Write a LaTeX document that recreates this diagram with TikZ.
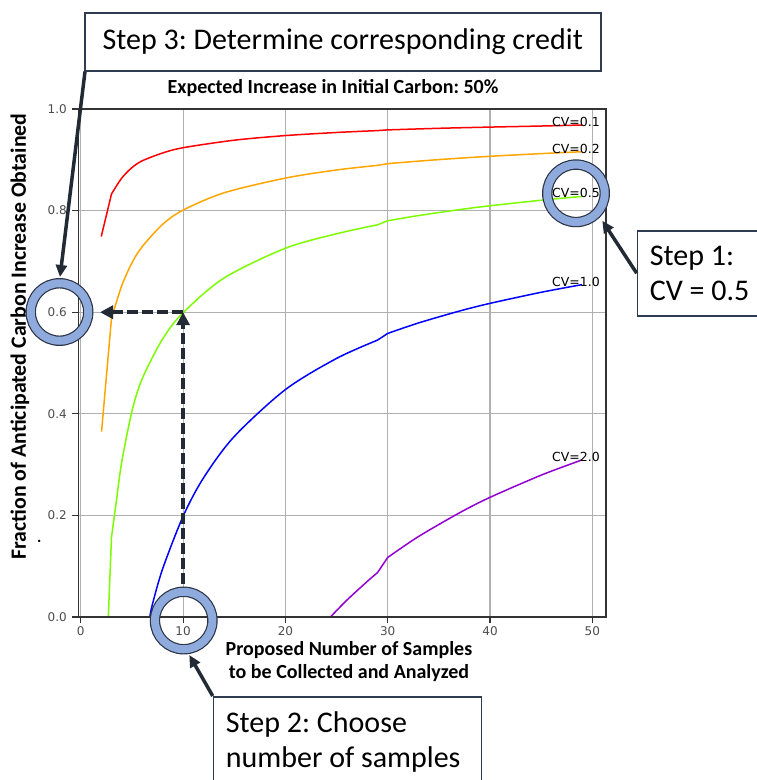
\documentclass[tikz,border=0pt]{standalone}
\usepackage{fontspec}
\setmainfont{Carlito}
\newfontfamily\djv{DejaVu Sans}
\usetikzlibrary{arrows.meta}
\frenchspacing
\newcommand{\normsp}{\spaceskip=0pt\xspaceskip=0pt\relax}
\definecolor{navy}{HTML}{222A35}
\definecolor{ringblue}{HTML}{8FAADC}
\definecolor{ringedge}{HTML}{2B3445}
\definecolor{boxedge}{HTML}{2F3B4F}
\definecolor{gridc}{HTML}{B0B0B0}
\definecolor{spinec}{HTML}{333333}
\definecolor{tickc}{HTML}{4D4D4D}
\definecolor{cvred}{HTML}{FF0000}
\definecolor{cvorange}{HTML}{FFA500}
\definecolor{cvgreen}{HTML}{7CFC00}
\definecolor{cvblue}{HTML}{0000FF}
\definecolor{cvpurple}{HTML}{9400D3}
\tikzset{
  gridline/.style={draw=gridc, line width=1.2pt},
  spine/.style={draw=spinec, line width=1.2pt},
  cvline/.style={line width=1.5pt, line join=round},
  ticklab/.style={font=\djv\fontsize{12}{14}\selectfont, text=tickc, inner sep=0pt},
  cvlab/.style={font=\djv\fontsize{12.5}{14}\selectfont, text=black, inner sep=0pt, anchor=base},
  axlab/.style={font=\bfseries\fontsize{20}{23.5}\selectfont, inner sep=0pt, align=center},
  stepbox/.style={draw=boxedge, line width=1.5pt, fill=white, font=\fontsize{30}{35}\selectfont, align=left},
  ring/.style={circle, draw=ringedge, double=ringblue, double distance=8pt, line width=1.2pt, minimum size=57.5pt, inner sep=0pt},
  callout/.style={draw=navy, line width=3.5pt, -{Triangle[length=12pt,width=11pt]}},
  guide/.style={draw=navy, line width=4.5pt, dash pattern=on 11pt off 4pt, -{Triangle[length=13pt,width=13pt]}}
}
\begin{document}
\begin{tikzpicture}[x=1pt,y=-1pt]
\useasboundingbox (0,0) rectangle (756,780);
\begin{scope}[shift={(80.8pt,-617pt)}, x=10.23pt, y=508pt]
  % grid
  \foreach \n in {0,10,...,50} \draw[gridline] (\n,0) -- (\n,1);
  \foreach \f in {0.2,0.4,0.6,0.8} \draw[gridline] (-0.225,\f) -- (51.34,\f);
  % curves
  \draw[cvline, cvred] (2,0.749) -- plot[smooth] coordinates {(3,0.8326) (4,0.864) (5,0.8846) (6,0.898) (8,0.9134) (10,0.9238) (15,0.9386) (20,0.9477) (25,0.9538) (29,0.9575)}
     -- plot[smooth] coordinates {(30,0.9589) (35,0.962) (40,0.9644) (45,0.9665) (49,0.9685)};
  \draw[cvline, cvorange] (2.03,0.365) -- plot[smooth] coordinates {(3,0.588) (4,0.652) (5,0.697) (6,0.729) (8,0.773) (10,0.801) (14,0.835) (20,0.864) (25,0.880) (29,0.889)}
     -- plot[smooth] coordinates {(30,0.8925) (35,0.9004) (40,0.9069) (45,0.9122) (49,0.9159)};
  \draw[cvline, cvgreen] (2.69,0) -- plot[smooth] coordinates {(3,0.157) (3.5,0.232) (4,0.305) (5,0.405) (6,0.469) (8,0.5474) (10,0.599) (14,0.6673) (20,0.7259) (25,0.7544) (29,0.772)}
     -- plot[smooth] coordinates {(30,0.78) (33,0.7902) (37,0.8019) (40,0.8095) (45,0.8204) (49,0.8279)};
  \draw[cvline, cvblue] plot[smooth] coordinates {(6.75,0) (7,0.0249) (8,0.0948) (10,0.1983) (12,0.274) (15,0.3553) (20,0.4477) (25,0.509) (29,0.545)}
     -- plot[smooth] coordinates {(30,0.5582) (33,0.5788) (37,0.6022) (40,0.6174) (45,0.6392) (49,0.6543)};
  \draw[cvline, cvpurple] plot[smooth] coordinates {(24.4,0) (26,0.033) (28,0.070) (29,0.0873)}
     -- plot[smooth] coordinates {(30,0.1172) (33,0.1583) (37,0.2049) (40,0.2355) (45,0.2792) (49,0.3093)};
  % frame and ticks
  \draw[spine] (-0.225,0) rectangle (51.34,1);
  \foreach \n in {0,10,...,50} {
    \draw[spine] (\n,0) -- ++(0pt,-6pt);
    \node[ticklab, yshift=-13.7pt] (xt\n) at (\n,0) {\n};
  }
  \foreach \f/\lab [count=\i] in {0/0.0,0.2/0.2,0.4/0.4,0.6/0.6,0.8/0.8,1/1.0} {
    \draw[spine] (-0.225,\f) -- ++(-6pt,0pt);
    \node[ticklab, anchor=east, xshift=-11.5pt] (yt\i) at (-0.225,\f) {\lab};
  }
  % curve labels
  \node[cvlab, yshift=-1.5pt] (cv1) at (48.4,0.9685) {CV=0.1};
  \node[cvlab, yshift=-1.5pt] (cv2) at (48.4,0.9159) {CV=0.2};
  \node[cvlab, yshift=-1.5pt] (cv5) at (48.4,0.8279) {CV=0.5};
  \node[cvlab, yshift=-1.5pt] (cv10) at (48.4,0.6543) {CV=1.0};
  \node[cvlab, yshift=-1.5pt] (cv20) at (48.4,0.3093) {CV=2.0};
  % guide points
  \coordinate (pick) at (10,0.6);
  \coordinate (gbot) at (10,0.065);
  \coordinate (gleft) at (1.88,0.6);
\end{scope}
% titles
\node[axlab] (title) at (333,88) {Expected Increase in Initial Carbon: 50\%};
\node[axlab, font=\bfseries\fontsize{21.8}{24}\selectfont, rotate=90] (ylab) at (20,336.5) {Fraction of Anticipated Carbon Increase Obtained};
\node[axlab, anchor=north] (xlab) at (349,641) {Proposed Number of Samples\\to be Collected and Analyzed};
\node[font=\bfseries\fontsize{16}{16}\selectfont, inner sep=0pt] (dot) at (39.3,541.7) {.};
% dashed guides
\draw[guide] (gbot) -- (pick);
\draw[guide] (pick) -- (gleft);
% rings
\node[ring] (r1) at (576,193.3) {};
\node[ring] (r2) at (183.7,620.5) {};
\node[ring] (r3) at (59.5,312) {};
% step boxes
\node[stepbox, anchor=north west, minimum width=516pt, minimum height=58pt, align=center] (s3) at (84,12) {Step 3: Determine corresponding credit};
\node[stepbox, anchor=north west, inner xsep=12.5pt, text width=115pt, minimum height=85pt] (s1) at (636.7,230) {\normsp Step 1:\\CV = 0.5};
\node[stepbox, anchor=north west, inner xsep=12.5pt, text width=243pt, minimum height=90pt] (s2) at (212.7,696) {\normsp Step 2: Choose\\number of samples};
% callout arrows
\coordinate (t1) at (602.3,220.7);
\coordinate (t2) at (189.3,655);
\coordinate (t3) at (60,277);
\draw[callout] (s1.west) -- (t1);
\draw[callout] (s2.north west) -- (t2);
\draw[callout] ([xshift=1pt]s3.south west) -- (t3);
\end{tikzpicture}
\end{document}
